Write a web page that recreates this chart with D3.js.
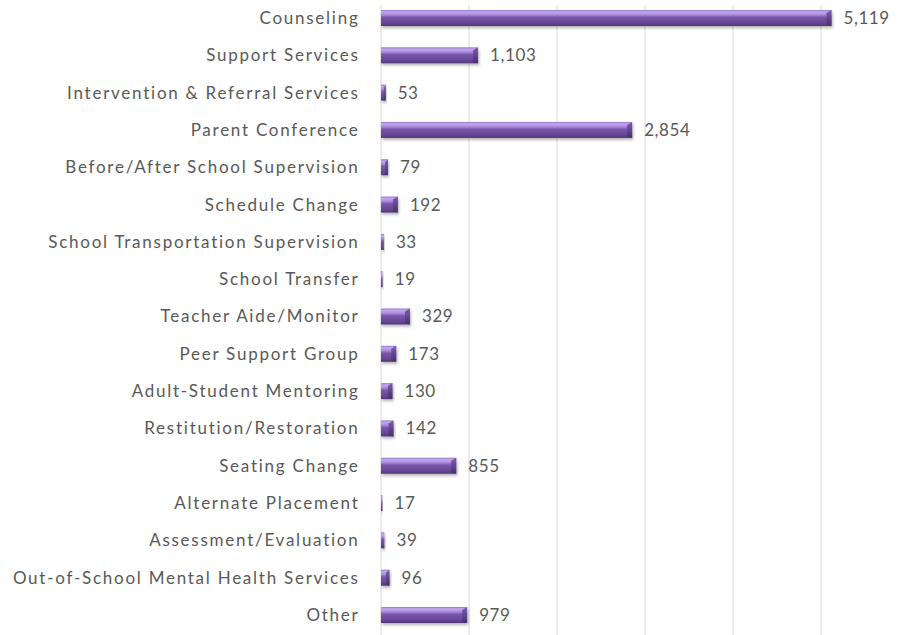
<!DOCTYPE html>
<html><head><meta charset="utf-8">
<script src="https://cdn.jsdelivr.net/npm/d3@7/dist/d3.min.js"></script>
<style>body{margin:0;background:#fff;}svg{display:block;}</style>
</head><body>
<script>
const categories = ["Counseling","Support Services","Intervention & Referral Services","Parent Conference","Before/After School Supervision","Schedule Change","School Transportation Supervision","School Transfer","Teacher Aide/Monitor","Peer Support Group","Adult-Student Mentoring","Restitution/Restoration","Seating Change","Alternate Placement","Assessment/Evaluation","Out-of-School Mental Health Services","Other"];
const values = [5119,1103,53,2854,79,192,33,19,329,173,130,142,855,17,39,96,979];
const gridTicks = [1000,2000,3000,4000,5000];

const W = 906, H = 635;
const svg = d3.select("body").append("svg").attr("width", W).attr("height", H);
const x = d3.scaleLinear().domain([0, 6000]).range([381, 909]);
const y = d3.scaleBand().domain(categories).range([-0.65, 633.65]).paddingInner(0.55).paddingOuter(0.275);

const defs = svg.append("defs");
const g1 = defs.append("linearGradient").attr("id","barg").attr("x1",0).attr("y1",0).attr("x2",0).attr("y2",1);
[[0,"#9677c8"],[0.12,"#c3a8ef"],[0.3,"#a98ada"],[0.45,"#7a57aa"],[0.8,"#674795"],[1,"#51367c"]].forEach(s=>g1.append("stop").attr("offset",s[0]).attr("stop-color",s[1]));
const g2 = defs.append("linearGradient").attr("id","capg").attr("x1",0).attr("y1",0).attr("x2",0).attr("y2",1);
[[0,"#7a5aa8"],[0.3,"#6d4f9c"],[1,"#45306a"]].forEach(s=>g2.append("stop").attr("offset",s[0]).attr("stop-color",s[1]));
const f = defs.append("filter").attr("id","sh").attr("x","-10%").attr("y","-30%").attr("width","130%").attr("height","190%");
f.append("feGaussianBlur").attr("in","SourceAlpha").attr("stdDeviation",1.5);
f.append("feOffset").attr("dx",1).attr("dy",2).attr("result","b");
f.append("feComponentTransfer").append("feFuncA").attr("type","linear").attr("slope",0.3);
const m = f.append("feMerge"); m.append("feMergeNode"); m.append("feMergeNode").attr("in","SourceGraphic");

// gridlines
svg.append("g").selectAll("line").data(gridTicks).join("line")
  .attr("x1", d=>x(d)).attr("x2", d=>x(d)).attr("y1", 5).attr("y2", 635)
  .attr("stroke", "#d9d9d9").attr("stroke-width", 1);
svg.append("line").attr("x1", x(0)).attr("x2", x(0)).attr("y1", 5).attr("y2", 635)
  .attr("stroke", "#d9d9d9").attr("stroke-width", 1);

const bh = 16;
const rows = svg.append("g").selectAll("g").data(categories).join("g")
  .attr("transform", (d)=>`translate(0,${y(d)+y.bandwidth()/2})`);

rows.each(function(c, i){
  const gg = d3.select(this);
  const v = values[i];
  const x0 = x(0), x1 = x(v), w = Math.max(1.2, x1 - x0);
  const b = gg.append("g").attr("filter","url(#sh)");
  b.append("rect").attr("x", x0).attr("y", -bh/2).attr("width", w).attr("height", bh).attr("fill","url(#barg)");
  const cw = Math.min(5, w*0.4);
  if (w > 4) b.append("path").attr("d", `M${x0+w-cw},${-bh/2+3} L${x0+w},${-bh/2} L${x0+w},${bh/2} L${x0+w-cw},${bh/2-1} Z`).attr("fill","url(#capg)");
  gg.append("text").attr("x", x0 + w + 12).attr("y", 0).attr("dy","0.35em")
    .attr("font-family","Lato, 'Open Sans', sans-serif").attr("font-size", 17).attr("fill","#595959")
    .attr("letter-spacing", 0.6)
    .text(d3.format(",")(v));
  gg.append("text").attr("x", 359.5).attr("y", 0).attr("dy","0.35em").attr("text-anchor","end")
    .attr("font-family","Lato, 'Open Sans', sans-serif").attr("font-size", 17).attr("fill","#595959")
    .attr("letter-spacing", 1.75)
    .text(c);
});
</script>
</body></html>
